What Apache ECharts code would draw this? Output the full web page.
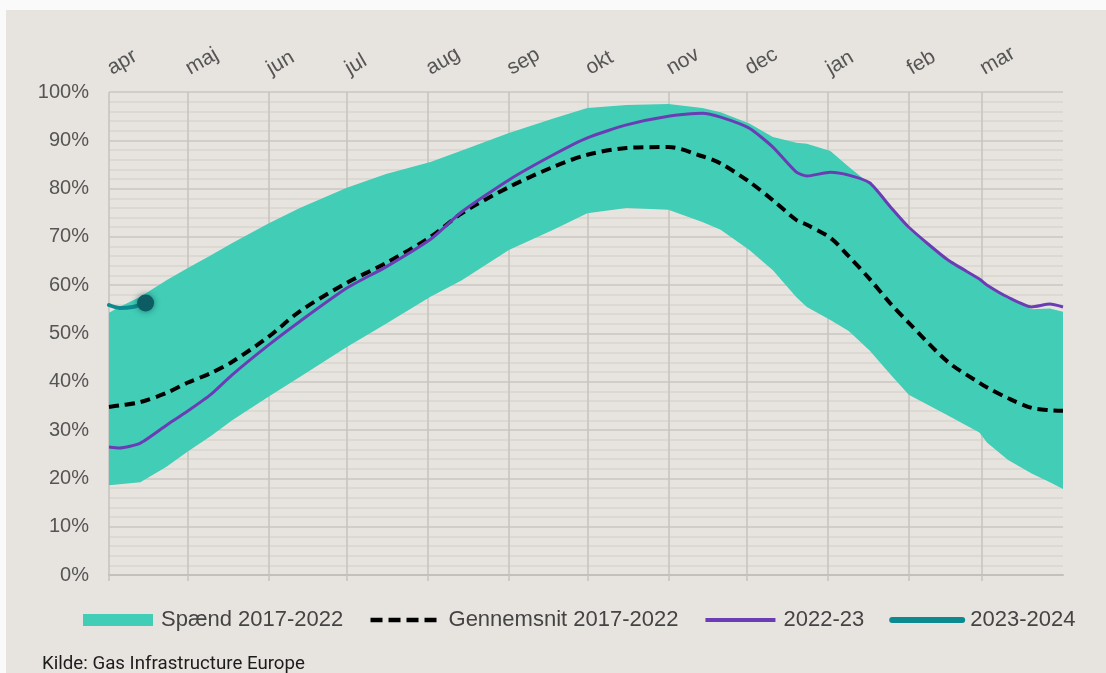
<!DOCTYPE html>
<html>
<head>
<meta charset="utf-8">
<script src="https://cdn.jsdelivr.net/npm/echarts@6/dist/echarts.min.js"></script>
<style>
  html, body { margin: 0; padding: 0; background: #fafafa; }
  #chart { position: absolute; left: 6px; top: 10px; width: 1100px; height: 663px; background: #e7e4df; }
</style>
</head>
<body>
<div id="chart"></div>
<script>
var chart = echarts.init(document.getElementById('chart'));

// month labels, first day index of each month (day 0 = 1 april)
var monthNames = ['apr', 'maj', 'jun', 'jul', 'aug', 'sep', 'okt', 'nov', 'dec', 'jan', 'feb', 'mar'];
var monthStarts = [0, 30, 61, 91, 122, 153, 183, 214, 244, 275, 306, 334];

// sample days
var days = [0, 4, 12, 22, 30, 39, 47, 61, 73, 91, 106, 123, 135, 153, 170, 183, 198, 214, 227, 234,
    245, 254, 263, 267, 276, 283, 291, 299, 306, 321, 333, 336, 344, 353, 360, 365];

var spanLow = [18.6, 18.8, 19.2, 22.4, 25.5, 28.8, 32, 36.9, 41, 47.2, 52, 57.6, 61, 67.3, 71.5, 74.9, 76, 75.6, 73.1, 71.5,
    67.3, 63.1, 57.5, 55.5, 52.8, 50.5, 46.5, 41.5, 37.3, 33, 29.5, 27.4, 23.8, 21, 19.2, 17.8];
var spanHigh = [54.3, 55.5, 57.6, 61, 63.5, 66.2, 68.7, 72.8, 76, 80.2, 83, 85.5, 87.9, 91.5, 94.5, 96.7, 97.3, 97.5, 96.7, 95.8,
    93.5, 90.7, 89.5, 89.3, 87.8, 84.5, 81, 76, 71.6, 64.9, 61, 59.7, 57.2, 55, 55.2, 54.5];
var average = [34.8, 35.1, 35.8, 37.7, 39.8, 41.8, 44.1, 49.3, 54.6, 60.5, 64.6, 70, 74.9, 80.3, 84.5, 87, 88.4, 88.6, 86.7, 85.2,
    81.4, 77.6, 73.5, 72.5, 69.8, 66, 61.3, 56.2, 52.2, 44.1, 39.8, 38.8, 36.6, 34.6, 34.1, 34];
var season2223 = [26.5, 26.3, 27.3, 31, 33.9, 37.4, 41.4, 47.6, 52.5, 59.4, 63.8, 69.5, 75.2, 81.8, 87, 90.5, 93.2, 95, 95.6, 94.8,
    92.5, 88.6, 83.4, 82.6, 83.4, 82.8, 81.2, 76.2, 72, 65.2, 61.3, 60, 57.5, 55.5, 56.1, 55.5];

var currentDays = [0, 4, 9, 14];
var currentValues = [55.9, 55.3, 55.5, 56.3];

var dayCategories = [];
for (var i = 0; i <= 365; i++) dayCategories.push(String(i));

function pairs(xs, ys) {
    return xs.map(function (x, i) { return [x, ys[i]]; });
}
var bandWidth = spanHigh.map(function (v, i) { return +(v - spanLow[i]).toFixed(2); });
var isMonthStart = function (idx) { return monthStarts.indexOf(idx) >= 0; };
var lastIdx = currentDays.length - 1;

var textColor = '#555555';
var fontFamily = '"Liberation Sans", Arial, sans-serif';
var teal = '#41cdb6';
var hideSymbol = { opacity: 0 };

option = {
    animation: false,
    textStyle: { fontFamily: fontFamily },
    title: {
        text: 'Kilde: Gas Infrastructure Europe',
        left: 31,
        top: 640,
        textStyle: { fontFamily: 'Roboto', fontSize: 18.7, fontWeight: 'normal', color: '#1c1c1c' }
    },
    grid: { left: 103, right: 43, top: 82, bottom: 98 },
    legend: {
        left: 72,
        top: 594,
        itemWidth: 70,
        itemHeight: 12,
        itemGap: 25,
        textStyle: { fontSize: 22, color: '#444', padding: [0, 0, 0, 3] },
        data: [
            { name: 'Spænd 2017-2022', icon: 'rect', itemStyle: { color: teal } },
            { name: 'Gennemsnit 2017-2022', itemStyle: hideSymbol, lineStyle: { width: 4.5, type: [12, 6] } },
            { name: '2022-23', itemStyle: hideSymbol, lineStyle: { width: 4 } },
            { name: '2023-2024', itemStyle: hideSymbol, lineStyle: { width: 6, cap: 'round' } }
        ]
    },
    xAxis: [{
        type: 'category',
        data: dayCategories,
        boundaryGap: false,
        axisLine: { show: true, lineStyle: { color: '#c3bfb9', width: 2 } },
        axisTick: { show: true, interval: isMonthStart, length: 6, lineStyle: { color: '#c6c2bc', width: 1.5 } },
        axisLabel: { show: false },
        splitLine: { show: true, interval: isMonthStart, lineStyle: { color: '#c6c2bc', width: 1.5 } }
    }, {
        type: 'category',
        data: dayCategories,
        boundaryGap: false,
        position: 'top',
        axisLine: { show: false },
        axisTick: { show: false },
        splitLine: { show: false },
        axisLabel: {
            interval: isMonthStart,
            rotate: -30,
            margin: 22,
            fontSize: 21,
            color: textColor,
            formatter: function (v) {
                var k = monthStarts.indexOf(+v);
                return k >= 0 ? monthNames[k] : '';
            }
        }
    }],
    yAxis: {
        type: 'value',
        min: 0,
        max: 100,
        interval: 10,
        axisLine: { show: false },
        axisTick: { show: false },
        axisLabel: { formatter: '{value}%', fontSize: 20, color: textColor, margin: 20 },
        splitLine: { lineStyle: { color: '#cac6c0', width: 1.5 } },
        minorTick: { show: false, splitNumber: 5 },
        minorSplitLine: { show: true, lineStyle: { color: '#d9d5cf', width: 1.5 } }
    },
    series: [{
        name: 'low',
        type: 'line',
        stack: 'band',
        symbol: 'none',
        silent: true,
        lineStyle: { width: 0, opacity: 0 },
        data: pairs(days, spanLow)
    }, {
        name: 'Spænd 2017-2022',
        type: 'line',
        stack: 'band',
        symbol: 'none',
        itemStyle: { color: teal },
        lineStyle: { width: 0, opacity: 0 },
        areaStyle: { color: teal, opacity: 1 },
        data: pairs(days, bandWidth)
    }, {
        name: 'Gennemsnit 2017-2022',
        type: 'line',
        symbol: 'none',
        smooth: 0.3,
        itemStyle: { color: '#000' },
        lineStyle: { color: '#000', width: 4, type: [10, 6] },
        data: pairs(days, average)
    }, {
        name: '2022-23',
        type: 'line',
        symbol: 'none',
        smooth: 0.2,
        itemStyle: { color: '#6a3db5' },
        lineStyle: { color: '#6a3db5', width: 3 },
        data: pairs(days, season2223)
    }, {
        name: '2023-2024',
        type: 'line',
        symbol: 'circle',
        showSymbol: true,
        showAllSymbol: true,
        symbolSize: function (val, params) { return params.dataIndex === lastIdx ? 17 : 0; },
        smooth: 0.3,
        z: 5,
        itemStyle: { color: '#0c5d63', shadowBlur: 6, shadowColor: 'rgba(0,60,60,0.6)' },
        lineStyle: { color: '#0d8a90', width: 4, cap: 'round' },
        data: pairs(currentDays, currentValues)
    }]
};
chart.setOption(option);
</script>
</body>
</html>
